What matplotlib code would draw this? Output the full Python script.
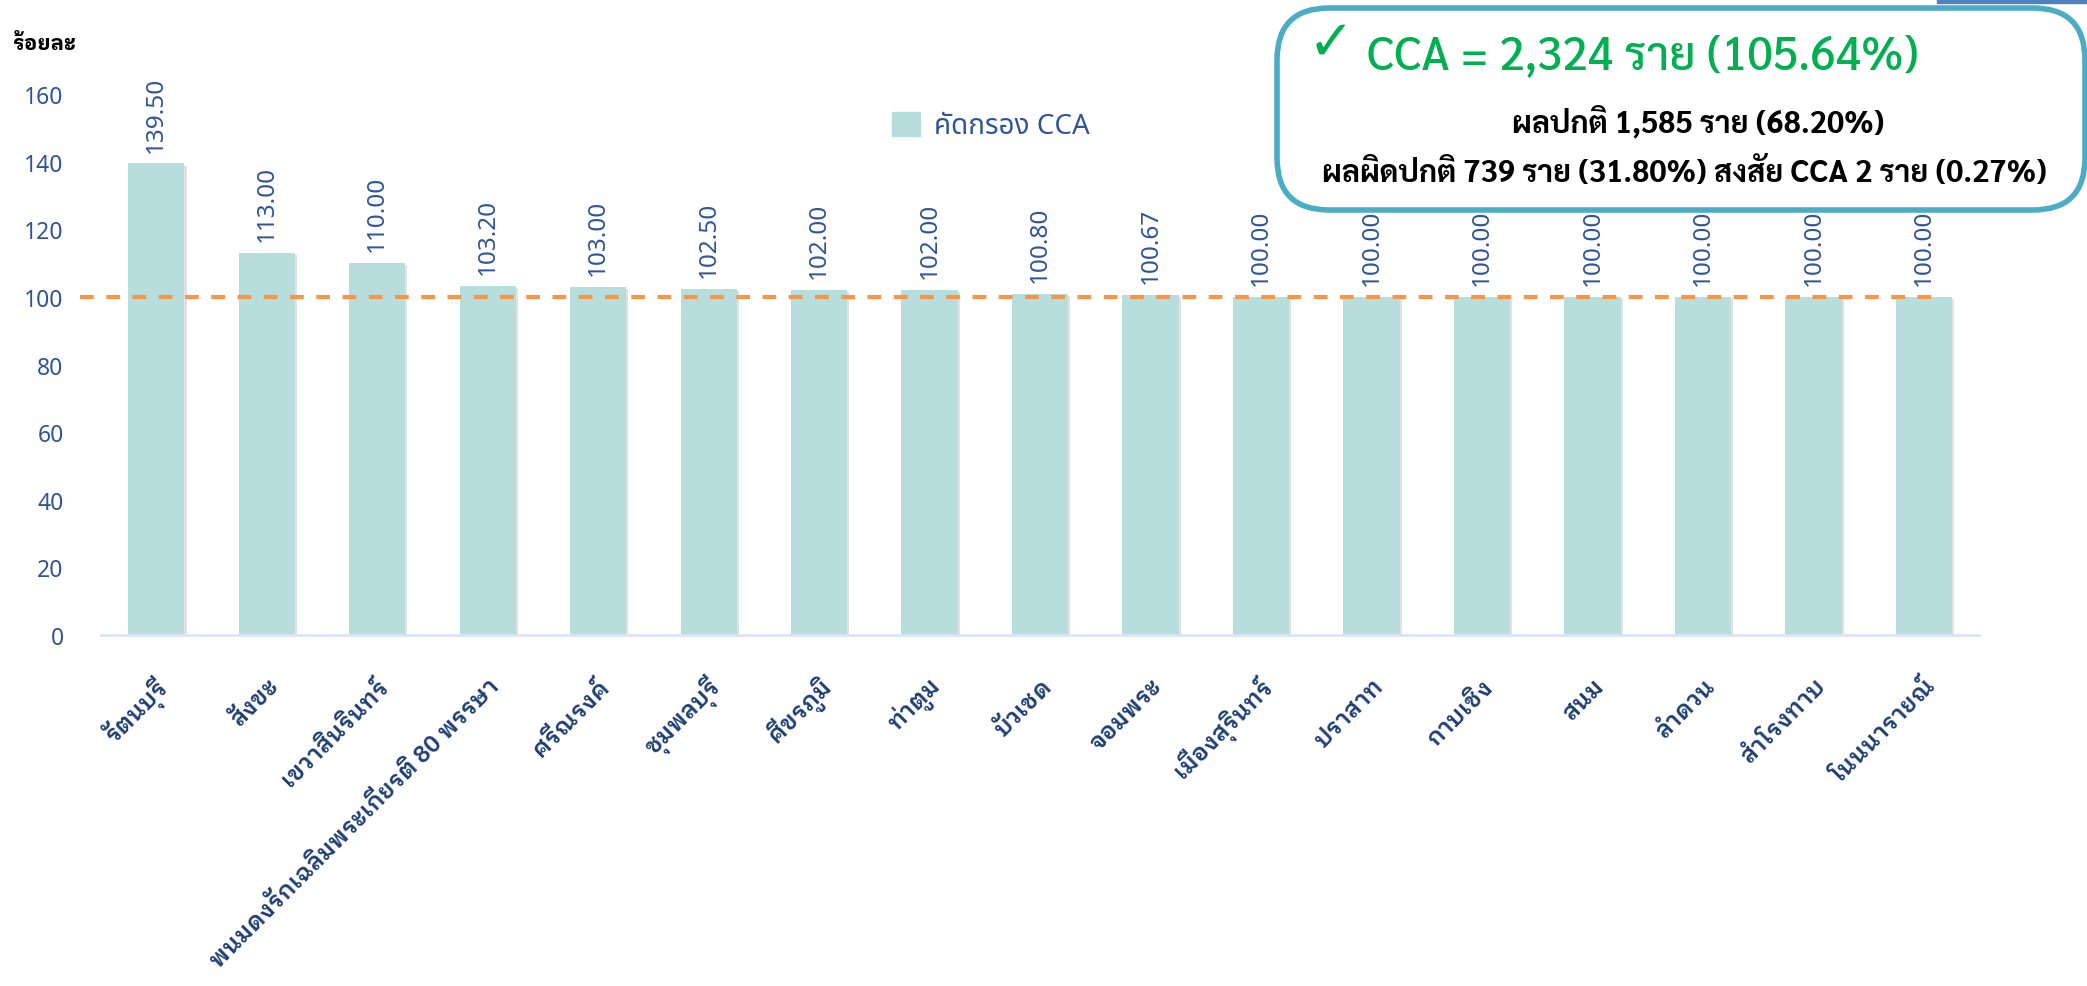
import matplotlib
matplotlib.use("Agg")
import matplotlib.pyplot as plt
import matplotlib.patheffects as pe
import matplotlib.transforms as mtransforms
from matplotlib.patches import FancyBboxPatch, Rectangle, Patch

# data
districts = ['รัตนบุรี', 'สังขะ', 'เขวาสินรินทร์', 'พนมดงรักเฉลิมพระเกียรติ 80 พรรษา',
             'ศรีณรงค์', 'ชุมพลบุรี', 'ศีขรภูมิ', 'ท่าตูม', 'บัวเชด', 'จอมพระ',
             'เมืองสุรินทร์', 'ปราสาท', 'กาบเชิง', 'สนม', 'ลำดวน', 'สำโรงทาบ', 'โนนนารายณ์']
cca_pct = [139.50, 113.00, 110.00, 103.20, 103.00, 102.50, 102.00, 102.00, 100.80, 100.67,
           100.00, 100.00, 100.00, 100.00, 100.00, 100.00, 100.00]
target = 100
yticks = [0, 20, 40, 60, 80, 100, 120, 140, 160]

box_main = 'CCA = 2,324 ราย (105.64%)'
box_line2 = 'ผลปกติ 1,585 ราย (68.20%)'
box_line3 = 'ผลผิดปกติ 739 ราย (31.80%) สงสัย CCA 2 ราย (0.27%)'

bar_col = '#B7DEDD'
num_col = '#2F5597'
lab_col = '#1F3F73'
thai = ['Noto Sans Thai', 'DejaVu Sans']
thai_loop = ['IBM Plex Sans Thai Looped', 'Noto Sans Thai Looped', 'DejaVu Sans']
box_font = ['Sarabun', 'Noto Sans Thai', 'DejaVu Sans']

fig = plt.figure(figsize=(20.87, 9.87), dpi=100)
ax = fig.add_axes([0.0484, 0.3556, 0.90, 0.548])

x = range(len(districts))
bars = ax.bar(x, cca_pct, width=0.51, color=bar_col, label='คัดกรอง CCA', zorder=2)
for b in bars:
    b.set_path_effects([pe.SimplePatchShadow(offset=(1.5, -1.5), shadow_rgbFace='#888888', alpha=0.25),
                        pe.Normal()])

for i, v in enumerate(cca_pct):
    ax.text(i, v + 3.5, '%.2f' % v, rotation=90, ha='center', va='bottom',
            fontsize=17.5, color=num_col, family=['Noto Sans'], clip_on=False, zorder=4)

ax.plot([-0.69, 16.17], [target, target], ls=(0, (3.3, 3.0)), color='#F79646', lw=3,
        clip_on=False, zorder=3)

ax.set_xlim(-0.5, 16.5)
ax.set_ylim(0, 160)
ax.set_yticks(yticks)
ax.set_yticklabels([str(t) for t in yticks], fontsize=16.5, color=num_col, family=['Noto Sans'])
ax.tick_params(axis='y', length=0, pad=27)
ax.set_xticks(list(x))
ax.set_xticklabels(districts, rotation=45, ha='right', va='center', rotation_mode='anchor',
                   fontsize=17, fontweight='semibold', color=lab_col, family=thai_loop)
ax.tick_params(axis='x', length=0, pad=34)
shift = mtransforms.ScaledTranslation(0.08, 0, fig.dpi_scale_trans)
for lab in ax.get_xticklabels():
    lab.set_transform(lab.get_transform() + shift)

for s in ['top', 'right', 'left']:
    ax.spines[s].set_visible(False)
ax.spines['bottom'].set_color('#D9E5F5')
ax.spines['bottom'].set_linewidth(2)

ax.legend(handles=[Patch(color=bar_col, label='คัดกรอง CCA')], frameon=False,
          loc='center left', bbox_to_anchor=(867 / 2087, 1 - 127 / 987),
          bbox_transform=fig.transFigure, prop={'family': thai, 'size': 20},
          labelcolor=num_col, handlelength=1.0, handleheight=1.0, handletextpad=0.5)

fig.text(13 / 2087, 1 - 44 / 987, 'ร้อยละ', ha='left', va='center', fontsize=15,
         fontweight='bold', color='black', family=thai_loop)

# summary box top right
fig.patches.append(Rectangle((1937 / 2087, 1 - 4 / 987), 150 / 2087, 4 / 987,
                             transform=fig.transFigure, color='#4F81BD', zorder=5))
box = FancyBboxPatch((1277 / 2087, 1 - 211 / 987), 808 / 2087, 202 / 987,
                     boxstyle='round,pad=0.0,rounding_size=0.025', transform=fig.transFigure,
                     facecolor='white', edgecolor='#4BACC6', lw=4, zorder=6,
                     mutation_aspect=2087 / 987)
fig.patches.append(box)
fig.text(1331 / 2087, 1 - 45 / 987, '✓', ha='center', va='center', fontsize=40,
         fontweight='bold', color='#00B050', family=['DejaVu Sans'], zorder=7)
fig.text(1367 / 2087, 1 - 58 / 987, box_main, ha='left', va='center', fontsize=33,
         fontweight='medium', color='#00B050', family=box_font, zorder=7)
fig.text(1698 / 2087, 1 - 122 / 987, box_line2, ha='center', va='center', fontsize=22,
         fontweight='bold', color='black', family=box_font, zorder=7)
fig.text(1684 / 2087, 1 - 173 / 987, box_line3, ha='center', va='center', fontsize=22,
         fontweight='bold', color='black', family=box_font, zorder=7)

fig.savefig('out.png', dpi=100)
